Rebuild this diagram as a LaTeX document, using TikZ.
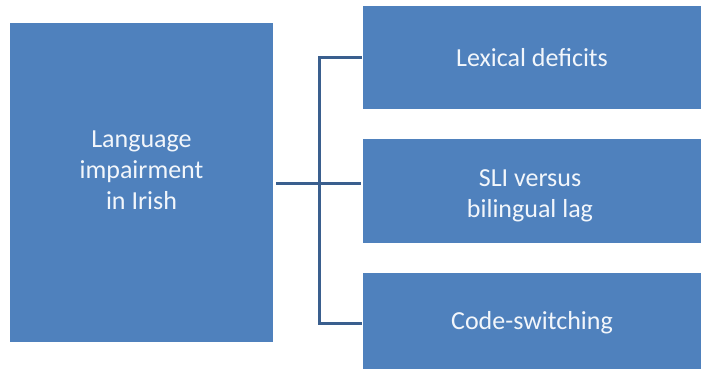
\documentclass[tikz,border=0pt]{standalone}
\usepackage{fontspec}
\setmainfont{Carlito}
\definecolor{boxblue}{HTML}{4F81BD}
\definecolor{lineblue}{HTML}{3A5F8E}
\definecolor{txt}{HTML}{F2F6FB}
\begin{document}
\begin{tikzpicture}[x=1pt,y=-1pt,
  blk/.style={rectangle, fill=boxblue, draw=none, inner sep=0pt, text=txt,
    align=center, font=\fontsize{26}{31}\selectfont},
  lbl/.style={text=txt, align=center, inner sep=0pt, font=\fontsize{26}{31}\selectfont},
  conn/.style={draw=lineblue, line width=3pt}]
\useasboundingbox (0,0) rectangle (701,369);
\clip (0,0) rectangle (701,369);
\fill[white] (0,0) rectangle (701,369);
\node[blk, minimum width=263pt, minimum height=319pt] (left) at (141.5,182.5) {};
\node[lbl] (lefttext) at (141.5,170) {Language\\impairment\\in Irish};
\node[blk, minimum width=338pt, minimum height=103pt] (top) at (532,57.5) {Lexical deficits};
\node[blk, minimum width=338pt, minimum height=104pt] (mid) at (532,191) {};
\node[lbl] (midtext) at (530,196) {SLI versus\\bilingual lag};
\node[blk, minimum width=338pt, minimum height=100pt] (bot) at (532,323) {Code-switching};
\coordinate (bus) at (319,183);
\draw[conn] ([xshift=3pt]left.east |- bus) -- ([xshift=-2pt]mid.west |- bus);
\draw[conn] ([xshift=-1pt]top.west) -| (bus) |- ([xshift=-1pt]bot.west);
\end{tikzpicture}
\end{document}
